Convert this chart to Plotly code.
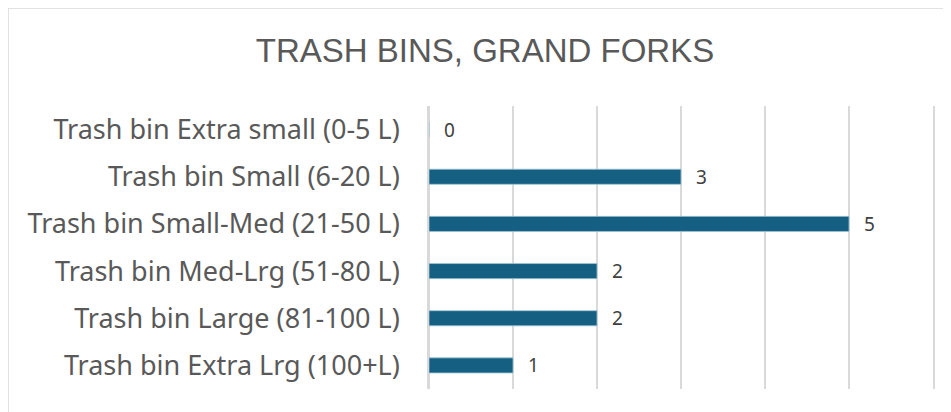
import plotly.graph_objects as go

categories = [
    "Trash bin Extra small (0-5 L)",
    "Trash bin Small (6-20 L)",
    "Trash bin Small-Med (21-50 L)",
    "Trash bin Med-Lrg (51-80 L)",
    "Trash bin Large (81-100 L)",
    "Trash bin Extra Lrg (100+L)",
]
counts = [0, 3, 5, 2, 2, 1]
title_text = "TRASH BINS, GRAND FORKS"

# page body has an 8px margin; figure placed at (8, 8)
OFF = 8
W, H = 951 - OFF, 412 - OFF
ML, MR, MT, MB = 429 - OFF, 18, 106 - OFF, 23

fig = go.Figure()
fig.add_trace(go.Bar(
    y=categories, x=counts, orientation="h",
    marker=dict(color="#156082", line=dict(color="#9FC3D6", width=0.8)),
    width=0.32,
))

for c, v in zip(categories, counts):
    fig.add_annotation(x=v, y=c, xref="x", yref="y", text=str(v),
                       showarrow=False, xanchor="left", yanchor="middle",
                       xshift=13, font=dict(family="Noto Sans, sans-serif", size=19, color="#404040"))

pw = W - ML - MR
ph = H - MT - MB
fig.add_shape(type="rect", xref="paper", yref="paper",
              x0=(0 - ML) / pw, x1=(W + 20 - ML) / pw,
              y0=-(MB + 20) / ph, y1=1 + (MT - 0) / ph,
              line=dict(color="#D9D9D9", width=1.5), fillcolor="rgba(0,0,0,0)", layer="below")

fig.update_layout(
    width=W, height=H,
    margin=dict(l=ML, r=MR, t=MT, b=MB),
    paper_bgcolor="white", plot_bgcolor="white",
    showlegend=False,
    title=dict(text=title_text, x=(485 - OFF) / W, xanchor="center", xref="container",
               y=1 - (50 - OFF) / H, yanchor="middle", yref="container",
               font=dict(family="Liberation Sans Narrow, Arial Narrow, Liberation Sans, sans-serif",
                         size=33, color="#595959")),
    xaxis=dict(range=[0, 6], dtick=1, showticklabels=False, showgrid=True,
               gridcolor="#D9D9D9", gridwidth=1.5, zeroline=True, zerolinecolor="#D9D9D9",
               zerolinewidth=1.5, fixedrange=True),
    yaxis=dict(autorange="reversed", showgrid=False, ticks="", ticklabelstandoff=22,
               automargin=False, showline=True, mirror=True, linecolor="#D9D9D9", linewidth=1.5,
               tickfont=dict(family="Noto Sans, sans-serif", size=27, color="#595959")),
)

fig.write_html("out.html")
